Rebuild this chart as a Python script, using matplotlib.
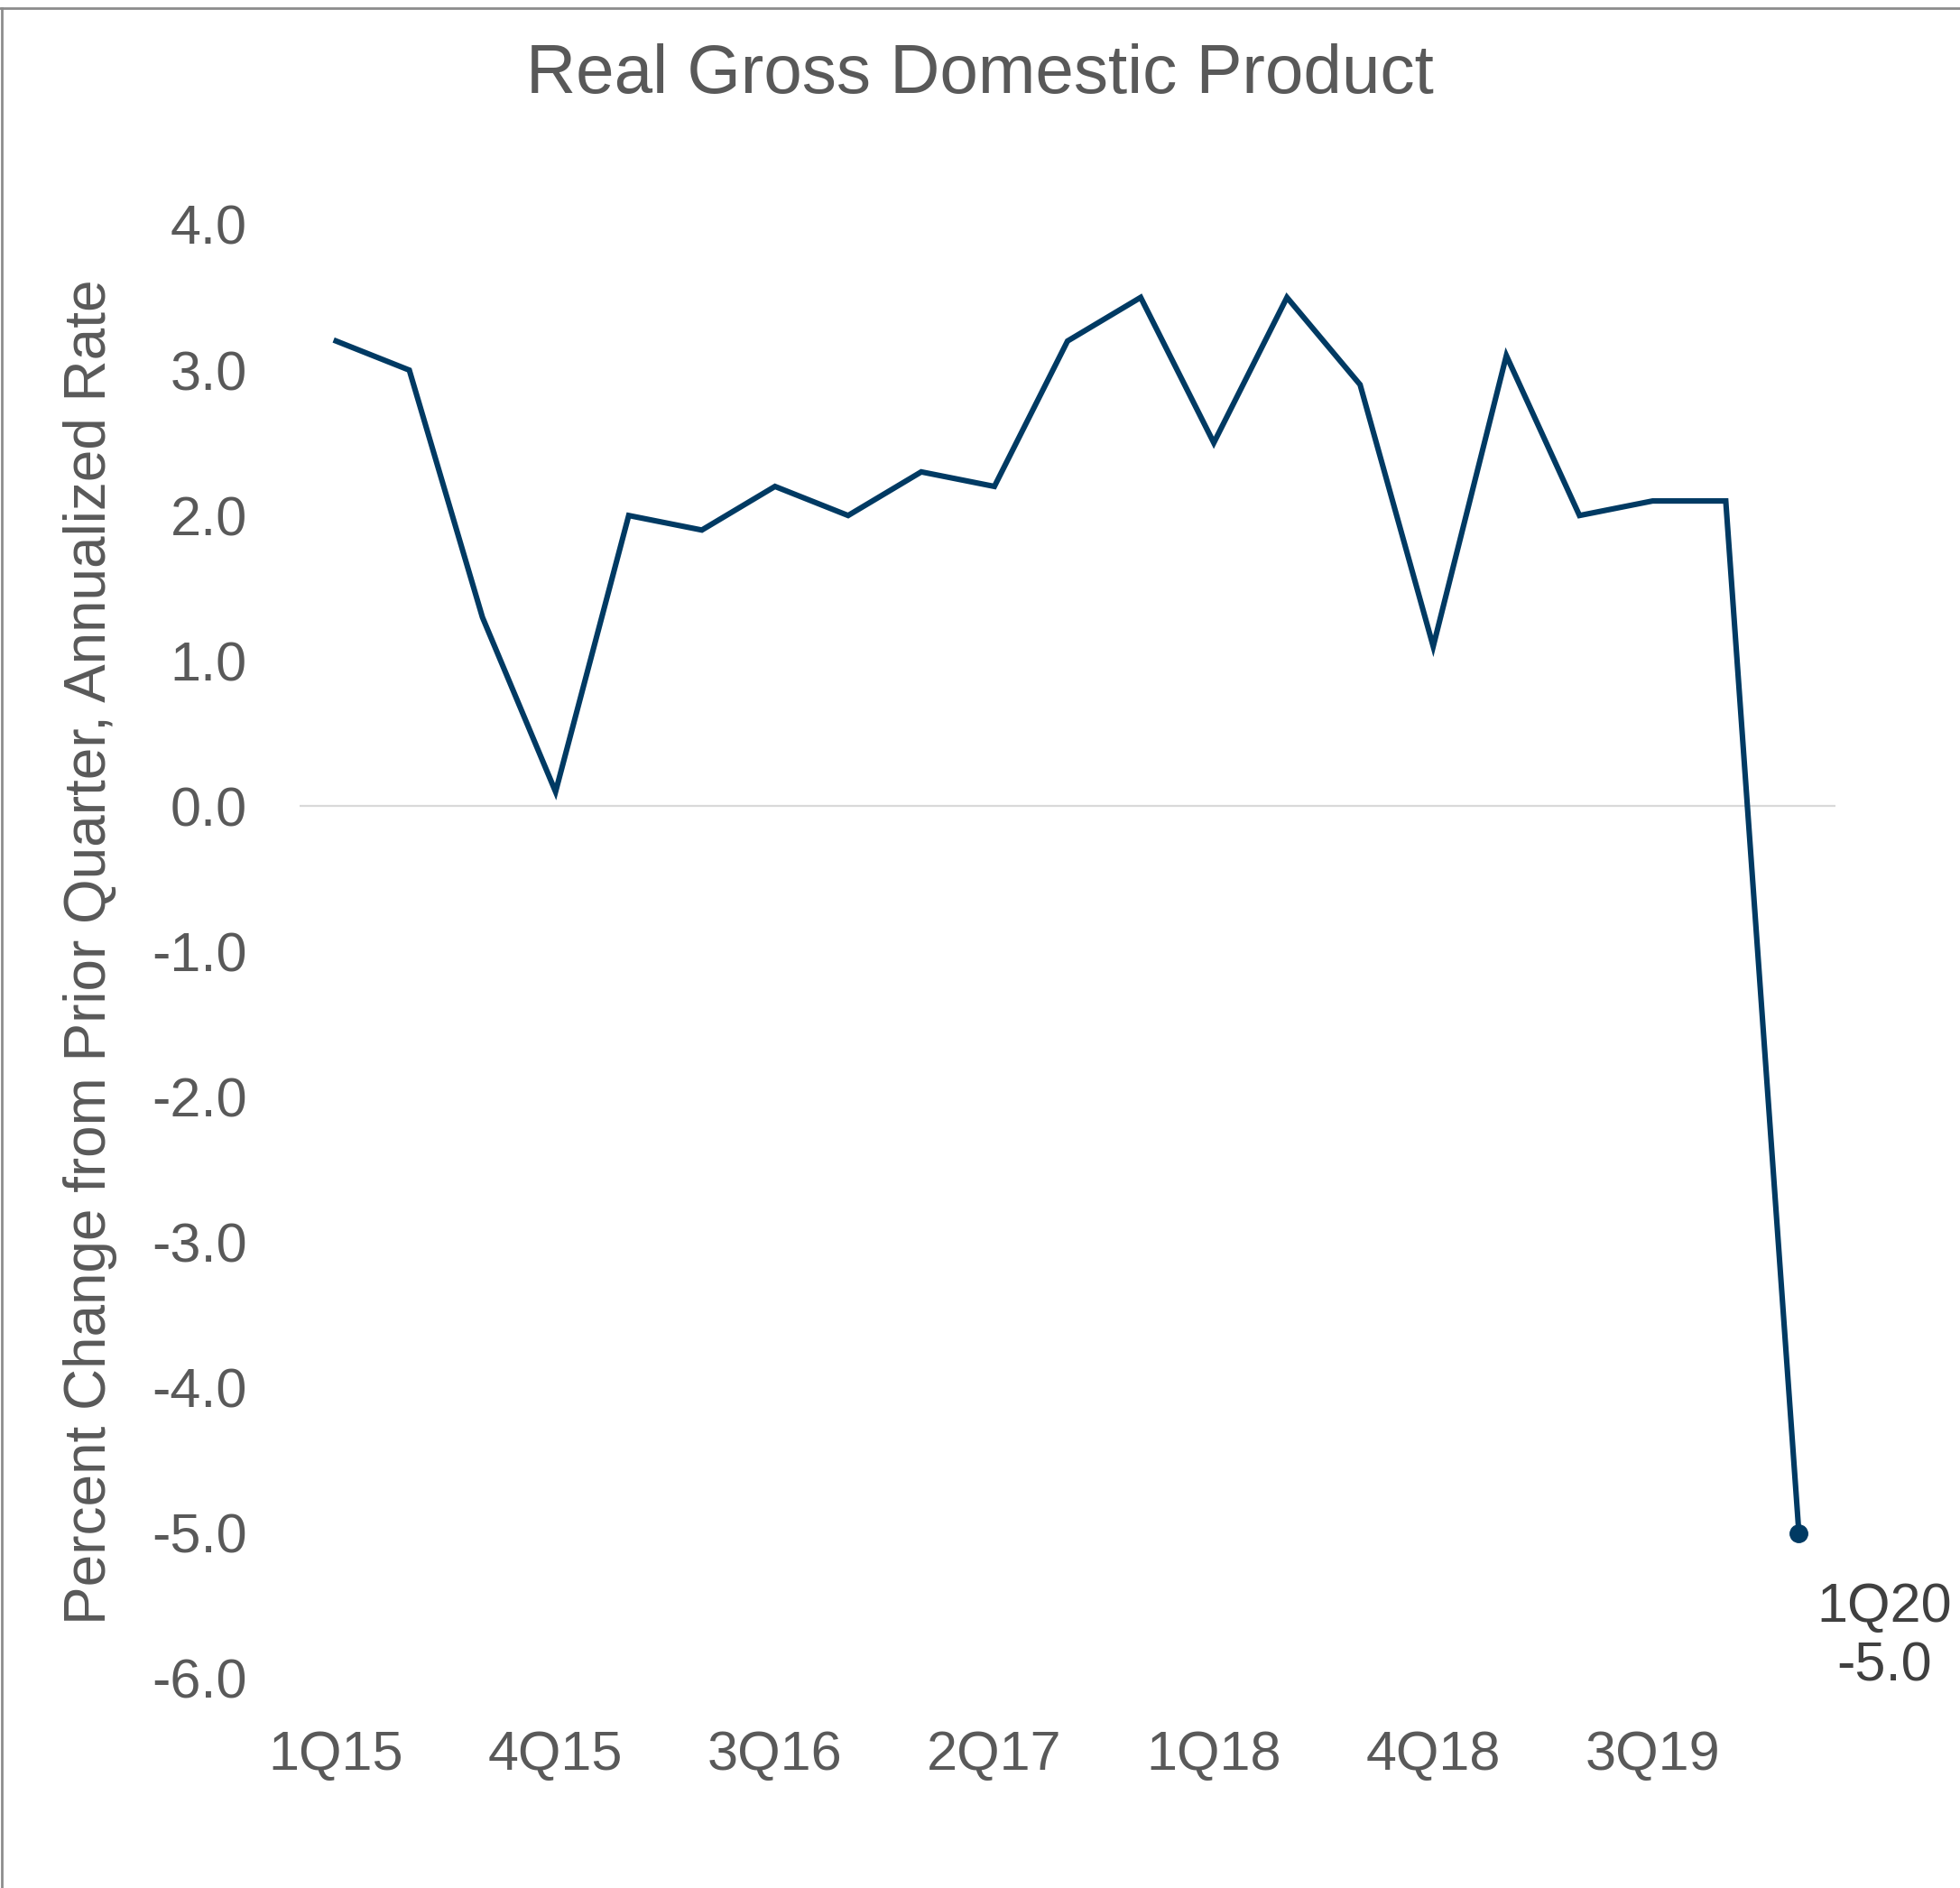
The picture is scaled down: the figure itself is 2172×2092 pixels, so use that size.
import matplotlib
matplotlib.use("Agg")
import matplotlib.pyplot as plt
from matplotlib.lines import Line2D

plt.rcParams["font.family"] = ["Liberation Sans", "DejaVu Sans"]

quarters = ["1Q15", "2Q15", "3Q15", "4Q15", "1Q16", "2Q16", "3Q16", "4Q16",
            "1Q17", "2Q17", "3Q17", "4Q17", "1Q18", "2Q18", "3Q18", "4Q18",
            "1Q19", "2Q19", "3Q19", "4Q19", "1Q20"]
gdp_growth = [3.2, 3.0, 1.3, 0.1, 2.0, 1.9, 2.2, 2.0, 2.3, 2.2, 3.2,
              3.5, 2.5, 3.5, 2.9, 1.1, 3.1, 2.0, 2.1, 2.1, -5.0]
y_ticks = [4.0, 3.0, 2.0, 1.0, 0.0, -1.0, -2.0, -3.0, -4.0, -5.0, -6.0]

W, H = 2172, 2092
fig = plt.figure(figsize=(W / 100, H / 100), dpi=100)
ax = fig.add_axes([332 / W, 1 - 1860 / H, (2034 - 332) / W, (1860 - 249) / H])

line_color = "#003A63"
text_gray = "#595959"

x = list(range(len(quarters)))
ax.plot(x, gdp_growth, color=line_color, lw=4.4, solid_joinstyle="miter", zorder=3)
ax.plot(x[-1], gdp_growth[-1], "o", color=line_color, ms=14, zorder=4)
ax.axhline(0, color="#D9D9D9", lw=1.6, zorder=1)

ax.set_xlim(-0.5, len(quarters) - 0.5)
ax.set_ylim(-6.0, 4.0)
ax.set_yticks(y_ticks)
ax.set_yticklabels([f"{v:.1f}" for v in y_ticks])
ax.set_xticks(x[::3])
ax.set_xticklabels(quarters[::3])
ax.tick_params(axis="both", length=0, labelsize=44, labelcolor=text_gray)
ax.tick_params(axis="y", pad=42)
ax.tick_params(axis="x", pad=41)
for s in ax.spines.values():
    s.set_visible(False)

ax.set_ylabel("Percent Change from Prior Quarter, Annualized Rate",
              fontsize=46, color=text_gray)
ax.yaxis.set_label_coords(-(332 - 130) / (2034 - 332), 0.5)

fig.text(0.5, 1 - 83 / H, "Real Gross Domestic Product", ha="center",
         va="center", fontsize=55, color=text_gray)

ax.annotate(f"{quarters[-1]}\n{gdp_growth[-1]:.1f}",
            xy=(x[-1], gdp_growth[-1]), xytext=(68, -83),
            textcoords="offset points", ha="center", va="center",
            fontsize=44, color="#404040", linespacing=1.2,
            annotation_clip=False)

# thin frame along top and left edges
border = "#8C8C8C"
fig.add_artist(Line2D([0, 1], [1 - 8.5 / H, 1 - 8.5 / H], transform=fig.transFigure,
                      color=border, lw=2))
fig.add_artist(Line2D([1.5 / W, 1.5 / W], [0, 1 - 8.5 / H], transform=fig.transFigure,
                      color=border, lw=2))

fig.savefig("out.png", dpi=100, facecolor="white")
